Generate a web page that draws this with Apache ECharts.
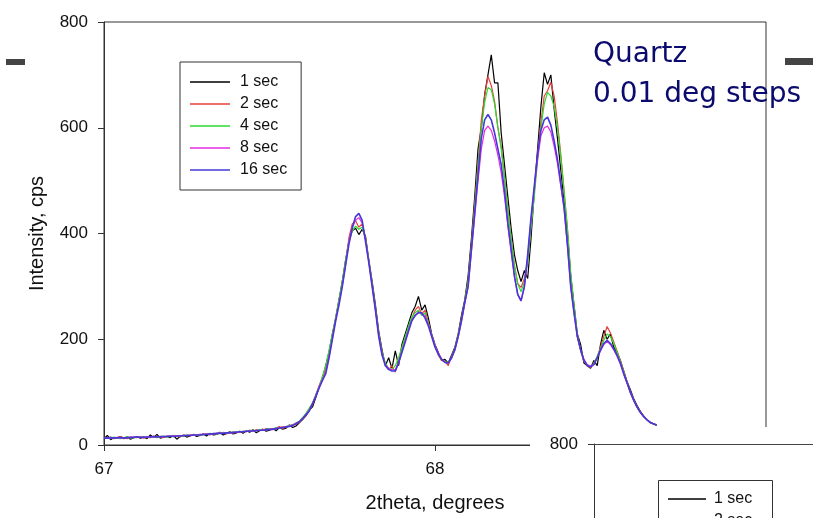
<!DOCTYPE html>
<html><head><meta charset="utf-8">
<script src="https://cdn.jsdelivr.net/npm/echarts@6/dist/echarts.min.js"></script>
<style>html,body{margin:0;padding:0;background:#fff}#c{width:813px;height:518px}</style>
</head><body><div id="c"></div>
<script>
// 2theta grid: 0.01 deg steps from 67.00 to 68.67
const twoTheta = Array.from({length:168}, (_, i) => +(67 + i * 0.01).toFixed(2));
const seriesNames = ['1 sec', '2 sec', '4 sec', '8 sec', '16 sec'];
const xTicks = [67, 68, 69];
const yTicks = [0, 200, 400, 600, 800];
const insetYTicks = [0, 800];

const sec1 = [
12,18,10,14,13,16,12,15,11,14,
16,13,15,12,19,14,20,13,15,16,
14,18,11,16,18,15,17,20,16,18,
21,17,22,19,20,24,19,22,25,21,
23,26,22,27,24,29,23,27,30,26,
28,31,27,33,30,32,38,33,36,42,
48,55,66,72,90,110,125,150,175,210,
240,275,310,350,385,405,410,398,408,395,
350,310,265,215,180,150,165,145,178,150,
190,210,230,250,262,281,255,265,240,210,
190,175,160,162,155,170,185,210,245,275,
320,390,470,560,600,663,700,738,685,685,
590,530,470,410,360,330,309,330,315,390,
480,560,640,704,682,700,635,580,520,460,
400,320,265,210,190,155,150,145,160,150,
190,217,200,210,185,175,160,140,120,105,
88,75,64,55,48,42,40,37];

const sec2 = [
14,13,15,12,14,16,13,12,15,14,
15,16,13,15,14,17,15,16,14,17,
16,18,17,15,19,18,17,20,19,18,
20,21,19,22,21,23,22,21,24,23,
25,24,26,25,28,26,29,27,28,31,
30,29,32,35,31,34,36,38,39,43,
49,56,65,76,95,112,128,145,172,205,
238,270,305,345,392,418,424,412,418,392,
348,305,260,210,175,152,142,150,138,160,
180,200,222,240,255,262,248,255,232,206,
188,170,160,158,150,168,182,208,240,272,
310,380,455,535,615,660,697,680,650,600,
565,505,445,390,340,305,298,315,350,420,
480,550,610,660,670,686,660,610,550,480,
410,320,260,205,178,158,150,146,155,165,
185,205,224,212,195,178,160,140,120,102,
86,73,63,55,48,43,40,37];

const sec4 = [
13,14,12,15,13,12,14,16,13,14,
14,15,15,14,16,15,14,16,17,15,
17,16,18,17,16,19,18,19,18,20,
19,21,20,22,21,22,24,22,23,25,
24,26,25,27,26,28,27,29,28,30,
31,30,33,32,34,35,37,38,42,45,
52,60,70,80,95,110,130,150,180,210,
242,275,310,350,385,405,414,408,412,390,
350,305,258,210,175,155,145,142,150,165,
185,205,225,242,250,255,245,250,230,208,
188,172,162,158,156,165,182,208,238,272,
310,375,450,525,600,648,676,672,645,600,
560,505,445,390,338,305,290,308,345,410,
470,540,600,645,667,660,640,600,545,480,
410,325,265,210,180,160,150,148,155,168,
182,198,210,205,192,176,158,138,118,100,
85,72,62,54,48,43,40,37];

const sec8 = [
14,13,13,14,14,13,14,14,15,14,
15,15,14,15,16,15,16,16,15,17,
16,17,17,18,17,18,19,18,19,20,
20,21,20,21,22,23,22,23,24,23,
24,25,26,25,27,26,28,27,29,29,
30,31,31,33,34,35,36,38,41,44,
50,58,66,79,93,110,124,138,168,202,
238,268,302,342,385,412,425,430,420,388,
348,302,256,208,172,152,145,142,142,156,
176,196,218,236,244,252,248,245,228,208,
188,174,163,157,155,164,180,204,234,268,
298,365,432,500,560,595,603,595,575,548,
515,470,415,365,318,284,272,298,355,425,
485,540,585,600,603,592,565,532,490,446,
378,300,250,206,180,162,152,149,153,165,
178,190,196,190,180,168,153,134,117,99,
85,72,62,54,48,43,40,38];

const sec16 = [
13,13,14,13,14,14,13,14,14,15,
15,14,15,15,15,16,15,16,16,16,
17,16,17,17,18,18,18,19,19,19,
20,20,21,21,22,22,22,23,23,24,
24,25,25,26,26,27,27,28,28,29,
29,30,31,32,33,34,35,37,40,44,
50,57,64,78,92,108,122,135,165,200,
235,265,300,340,380,410,432,438,425,385,
345,300,255,205,170,150,143,140,140,155,
175,195,215,235,245,250,250,240,225,205,
185,172,162,156,155,165,180,205,235,270,
300,370,440,510,580,615,625,615,590,560,
530,480,420,370,320,285,273,300,360,430,
490,550,595,615,620,605,575,540,495,450,
380,300,250,205,180,160,150,148,152,165,
180,192,198,192,182,170,155,135,118,100,
85,72,62,54,48,43,40,38];

const allValues = [sec1, sec2, sec4, sec8, sec16];
const colors = ['#000000', '#e8403a', '#2edb2e', '#e62be6', '#4638d8'];
const widths = [1.2, 1.2, 1.2, 1.2, 1.6];

const FONT = 'Liberation Sans, Arial, sans-serif';
const chart = echarts.init(document.getElementById('c'), null, {renderer: 'canvas'});

const series = seriesNames.map((n, k) => ({
  name: n, type: 'line', xAxisIndex: 0, yAxisIndex: 0,
  data: twoTheta.map((x, i) => [x, allValues[k][i]]),
  showSymbol: false, symbol: 'none', z: 2 + k,
  lineStyle: {color: colors[k], width: widths[k]},
  itemStyle: {color: colors[k]},
  animation: false
}));

// inset (partially visible second chart) legend drawn as graphic elements
const insetLegend = [
  {type: 'rect', z: 70, shape: {x: 658.5, y: 480.5, width: 114, height: 140}, style: {fill: '#fff', stroke: '#333', lineWidth: 1}}
];
seriesNames.forEach((n, k) => {
  const yy = 499 + k * 22;
  insetLegend.push({type: 'line', z: 71, shape: {x1: 668, y1: yy, x2: 706, y2: yy}, style: {stroke: colors[k], lineWidth: 1.3}});
  insetLegend.push({type: 'text', z: 71, x: 714, y: yy, style: {text: n, fontFamily: FONT, fontSize: 16, fill: '#111', verticalAlign: 'middle'}});
});

chart.setOption({
  backgroundColor: '#fff',
  animation: false,
  title: {
    text: 'Quartz\n0.01 deg steps', left: 588, top: 30, z: 80,
    textStyle: {fontFamily: 'DejaVu Sans, sans-serif', fontWeight: 'normal', fontSize: 28, lineHeight: 40, color: '#0b0b6e'}
  },
  grid: [
    {left: 104, top: 22, width: 662, height: 425, show: true, borderColor: '#333', borderWidth: 1, containLabel: false},
    {left: 594, top: 444, width: 400, height: 425, show: false, z: 60}
  ],
  xAxis: [
    {type: 'value', gridIndex: 0, min: xTicks[0], max: xTicks[xTicks.length - 1], interval: 1,
     axisLine: {show: true, lineStyle: {color: '#333', width: 1}},
     axisTick: {show: true, inside: false, length: 6, lineStyle: {color: '#333'}},
     axisLabel: {fontFamily: FONT, fontSize: 17, color: '#111', margin: 16},
     splitLine: {show: false},
     name: '2theta, degrees', nameLocation: 'middle', nameGap: 48,
     nameTextStyle: {fontFamily: FONT, fontSize: 20, color: '#111'}},
    {type: 'value', gridIndex: 1, min: 0, max: 1, position: 'top', z: 60,
     axisLine: {show: true, onZero: false, lineStyle: {color: '#444', width: 1}},
     axisTick: {show: false}, axisLabel: {show: false}, splitLine: {show: false}}
  ],
  yAxis: [
    {type: 'value', gridIndex: 0, min: yTicks[0], max: yTicks[yTicks.length - 1], interval: 200,
     axisLine: {show: true, lineStyle: {color: '#333', width: 1}},
     axisTick: {show: true, inside: false, length: 6, lineStyle: {color: '#333'}},
     axisLabel: {fontFamily: FONT, fontSize: 17, color: '#111', margin: 16},
     splitLine: {show: false},
     name: 'Intensity, cps', nameLocation: 'middle', nameGap: 57,
     nameTextStyle: {fontFamily: FONT, fontSize: 20, color: '#111'}},
    {type: 'value', gridIndex: 1, min: insetYTicks[0], max: insetYTicks[1], interval: 800, z: 60,
     axisLine: {show: true, onZero: false, lineStyle: {color: '#333', width: 1}},
     axisTick: {show: true, inside: false, length: 6, lineStyle: {color: '#333'}},
     axisLabel: {fontFamily: FONT, fontSize: 17, color: '#111', margin: 16},
     splitLine: {show: false}}
  ],
  legend: [
    {left: 180, top: 62, padding: [11, 14, 11, 10], z: 70,
     orient: 'vertical', icon: 'rect', itemWidth: 40, itemHeight: 1.5, itemGap: 4,
     borderColor: '#333', borderWidth: 1, backgroundColor: '#fff',
     textStyle: {fontFamily: FONT, fontSize: 16, color: '#111', lineHeight: 18, padding: [0, 0, 0, 5]},
     selectedMode: false, data: seriesNames}
  ],
  graphic: [
    {type: 'rect', z: 50, shape: {x: 530, y: 427, width: 283, height: 91}, style: {fill: '#fff'}},
    {type: 'rect', z: 50, shape: {x: 6, y: 59, width: 19, height: 6}, style: {fill: '#444'}},
    {type: 'rect', z: 50, shape: {x: 785, y: 58, width: 28, height: 7}, style: {fill: '#444'}}
  ].concat(insetLegend),
  series: series
});
</script>
</body></html>
